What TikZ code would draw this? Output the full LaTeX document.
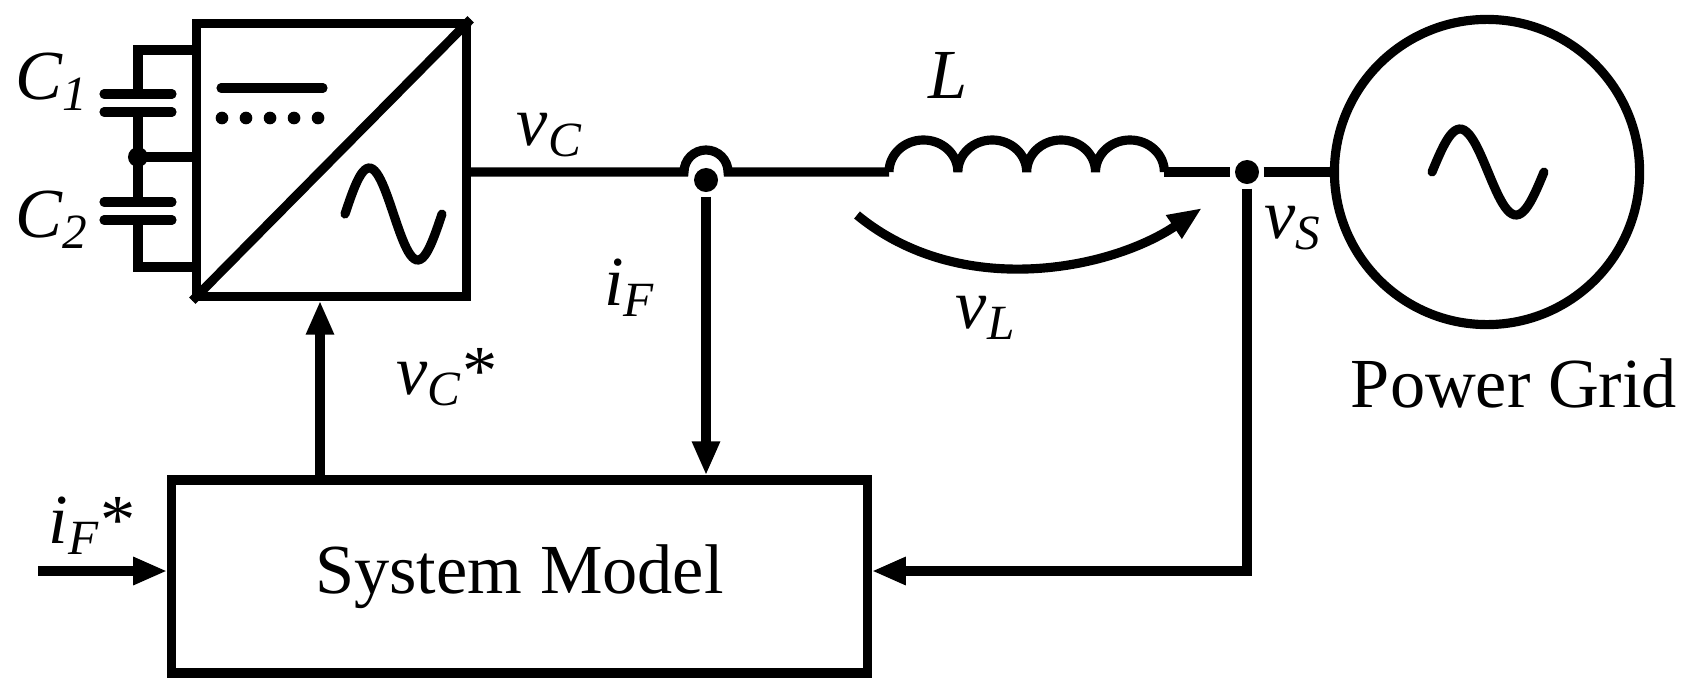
\documentclass[tikz,border=0pt]{standalone}
\usepackage{fontspec}
\setmainfont{Liberation Serif}
\usetikzlibrary{arrows.meta}
\newcommand{\var}[2]{\textit{#1}\textsubscript{\textit{#2}}}
\begin{document}
\begin{tikzpicture}[x=0.01cm,y=-0.01cm,line width=2.6pt,
	font=\fontsize{20}{24}\selectfont]

\tikzstyle{block} = [draw, rectangle, inner sep=0pt];
\tikzstyle{arr} = [-{Triangle[length=0.34cm,width=0.26cm]}];
\tikzstyle{dot} = [circle, fill, inner sep=0pt, minimum size=0.24cm];
\tikzstyle{lbl} = [inner sep=1pt];
\useasboundingbox (0,0) rectangle (1689,697);

% converter and capacitors
\node[block,minimum width=2.69cm,minimum height=2.72cm] (conv) at (331.5,160) {};
\draw (conv.south west) -- (conv.north east);
\draw[line cap=round] (221,88) -- (323,88);
\draw[line cap=round,dash pattern=on 0pt off 0.24cm,line width=3.6pt] (222,118) -- (323,118);
\draw[line cap=round] plot[domain=0:1,samples=50] ({345+97*\x},{214-46*sin(360*\x)});

\coordinate (ct) at (138,50);
\coordinate (cm) at (138,157);
\coordinate (cb) at (138,267);
\draw (conv.west |- ct) -- (ct) -- (138,94);
\draw (138,112) -- (138,202);
\draw (138,220) -- (cb) -- (conv.west |- cb);
\draw (cm) -- (conv.west |- cm);
\node[dot,minimum size=0.2cm] at (cm) {};
\foreach \y in {94,112,202,220}
	\draw[line cap=round] (104,\y) -- (172,\y);
\node[lbl] (c1) at (52,82) {\var{C}{1}};
\node[lbl] (c2) at (52,220) {\var{C}{2}};

% line, hop, inductor
\coordinate (hopl) at (684,172);
\node[dot] (jf) at (706,180) {};
\coordinate (lstart) at (889,172);
\coordinate (lend) at (1164,172);
\node[dot] (js) at (1247,172) {};
\draw (conv.east |- hopl) -- (hopl)
	arc[start angle=180,end angle=0,radius=0.22cm] -- (lstart);
\draw (lstart) foreach \i in {0,...,3} {
	arc[start angle=180,end angle=0,x radius=0.344cm,y radius=0.32cm] };
\draw (lend) -- (js);
\node[lbl] (vc) at (550,135) {\var{v}{C}};
\node[lbl] (ll) at (948,75) {\textit{L}};
\draw[arr] (857,215) .. controls (960,300) and (1110,270) .. (1202,208);
\node[lbl] (vl) at (986,318) {\var{v}{L}};
\node[lbl] (vs) at (1293,228) {\var{v}{S}};

% grid
\node[draw,circle,minimum size=3.05cm,inner sep=0pt] (grid) at (1487,172) {};
\draw (js) -- (grid.west);
\draw[line cap=round] plot[domain=0:1,samples=50] ({1432+112*\x},{172-43*sin(360*\x)});
\node[lbl] (pg) at (1514,383) {Power Grid};

% system model and feedback
\node[block,minimum width=6.95cm,minimum height=1.93cm] (model) at (519.5,576.5) {System Model};
\coordinate (sback) at (1247,571);
\coordinate (iin) at (38,571);
\draw[arr] (jf) -- (jf |- model.north);
\draw[arr] (js) -- (sback) -- (model.east |- sback);
\draw[arr] (iin) -- (model.west |- iin);
\draw[arr] (model.north -| 320,0) -- (conv.south -| 320,0);
\node[lbl] (if) at (630,288) {\var{i}{F}};
\node[lbl] (vcs) at (447,377) {\var{v}{C}*};
\node[lbl] (ifs) at (92,526) {\var{i}{F}*};

\end{tikzpicture}
\end{document}
